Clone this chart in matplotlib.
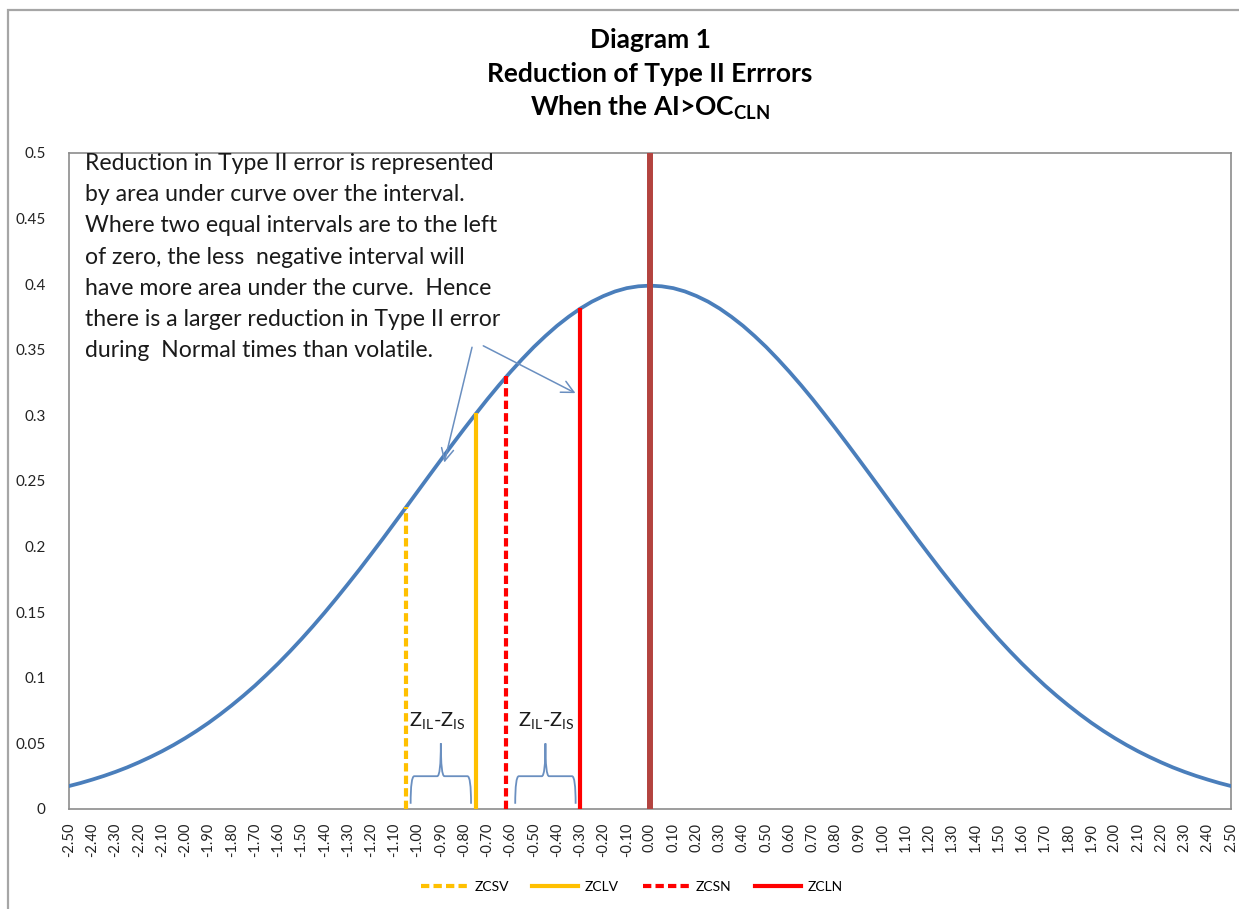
import matplotlib
matplotlib.use("Agg")
import matplotlib.pyplot as plt
from matplotlib.patches import PathPatch, Rectangle
from matplotlib.path import Path

plt.rcParams["font.family"] = ["Lato", "DejaVu Sans"]
plt.rcParams["mathtext.fontset"] = "custom"
plt.rcParams["mathtext.rm"] = "Lato"
plt.rcParams["mathtext.bf"] = "Lato:bold"

# standard normal curve, every 0.05
z = [-2.5, -2.45, -2.4, -2.35, -2.3, -2.25, -2.2, -2.15, -2.1, -2.05,
     -2.0, -1.95, -1.9, -1.85, -1.8, -1.75, -1.7, -1.65, -1.6, -1.55,
     -1.5, -1.45, -1.4, -1.35, -1.3, -1.25, -1.2, -1.15, -1.1, -1.05,
     -1.0, -0.95, -0.9, -0.85, -0.8, -0.75, -0.7, -0.65, -0.6, -0.55,
     -0.5, -0.45, -0.4, -0.35, -0.3, -0.25, -0.2, -0.15, -0.1, -0.05,
     0.0,
     0.05, 0.1, 0.15, 0.2, 0.25, 0.3, 0.35, 0.4, 0.45, 0.5,
     0.55, 0.6, 0.65, 0.7, 0.75, 0.8, 0.85, 0.9, 0.95, 1.0,
     1.05, 1.1, 1.15, 1.2, 1.25, 1.3, 1.35, 1.4, 1.45, 1.5,
     1.55, 1.6, 1.65, 1.7, 1.75, 1.8, 1.85, 1.9, 1.95, 2.0,
     2.05, 2.1, 2.15, 2.2, 2.25, 2.3, 2.35, 2.4, 2.45, 2.5]
density = [0.0175, 0.0198, 0.0224, 0.0252, 0.0283, 0.0317, 0.0355, 0.0396, 0.0440, 0.0488,
           0.0540, 0.0596, 0.0656, 0.0721, 0.0790, 0.0863, 0.0940, 0.1023, 0.1109, 0.1200,
           0.1295, 0.1394, 0.1497, 0.1604, 0.1714, 0.1826, 0.1942, 0.2059, 0.2179, 0.2299,
           0.2420, 0.2541, 0.2661, 0.2780, 0.2897, 0.3011, 0.3123, 0.3230, 0.3332, 0.3429,
           0.3521, 0.3605, 0.3683, 0.3752, 0.3814, 0.3867, 0.3910, 0.3945, 0.3970, 0.3984,
           0.3989,
           0.3984, 0.3970, 0.3945, 0.3910, 0.3867, 0.3814, 0.3752, 0.3683, 0.3605, 0.3521,
           0.3429, 0.3332, 0.3230, 0.3123, 0.3011, 0.2897, 0.2780, 0.2661, 0.2541, 0.2420,
           0.2299, 0.2179, 0.2059, 0.1942, 0.1826, 0.1714, 0.1604, 0.1497, 0.1394, 0.1295,
           0.1200, 0.1109, 0.1023, 0.0940, 0.0863, 0.0790, 0.0721, 0.0656, 0.0596, 0.0540,
           0.0488, 0.0440, 0.0396, 0.0355, 0.0317, 0.0283, 0.0252, 0.0224, 0.0198, 0.0175]
x_ticks = z[::2]
y_ticks = [0, 0.05, 0.1, 0.15, 0.2, 0.25, 0.3, 0.35, 0.4, 0.45, 0.5]

# cut-off lines
line_names = ["ZCSV", "ZCLV", "ZCSN", "ZCLN"]
line_x = [-1.05, -0.75, -0.62, -0.30]
line_top = [0.23, 0.30, 0.33, 0.38]
line_colors = ["#FFC000", "#FFC000", "#FF0000", "#FF0000"]
line_dashed = [True, False, True, False]

# the two equal intervals marked with braces
intervals = [(-1.03, -0.77), (-0.58, -0.32)]
interval_label_x = [-0.915, -0.448]

note = ("Reduction in Type II error is represented\n"
        "by area under curve over the interval.\n"
        "Where two equal intervals are to the left\n"
        "of zero, the less  negative interval will\n"
        "have more area under the curve.  Hence\n"
        "there is a larger reduction in Type II error\n"
        "during  Normal times than volatile.")

fig = plt.figure(figsize=(12.39, 9.09), dpi=100)
ax = fig.add_axes([69 / 1239, 1 - 809 / 909, (1231 - 69) / 1239, (809 - 153) / 909])

ax.plot(z, density, color="#4A7EBB", lw=2.7, zorder=3)
ax.plot([0, 0], [0, 0.5], color="#B3433F", lw=4.3, zorder=4)

for name, x, top, col, dashed in zip(line_names, line_x, line_top, line_colors, line_dashed):
    ls = (0, (2, 1)) if dashed else "-"
    ax.plot([x, x], [0, top], color=col, lw=3, ls=ls, label=name, zorder=4)


def brace(ax, x0, x1, y0=0.004, y1=0.025, y2=0.05, color="#6A8FC0"):
    xc = (x0 + x1) / 2
    r = (x1 - x0) * 0.06
    verts = [(x0, y0), (x0, y1), (x0 + r, y1),
             (xc - r, y1),
             (xc, y1), (xc, y2),
             (xc, y1), (xc + r, y1),
             (x1 - r, y1),
             (x1, y1), (x1, y0)]
    codes = [Path.MOVETO, Path.CURVE3, Path.CURVE3,
             Path.LINETO,
             Path.CURVE3, Path.CURVE3,
             Path.CURVE3, Path.CURVE3,
             Path.LINETO,
             Path.CURVE3, Path.CURVE3]
    ax.add_patch(PathPatch(Path(verts, codes), fill=False, edgecolor=color, lw=1.3, zorder=5))


for (x0, x1), lx in zip(intervals, interval_label_x):
    brace(ax, x0, x1)
    ax.text(lx, 0.067, r"Z$_{\rm IL}$-Z$_{\rm IS}$", ha="center", va="center",
            fontsize=14.5, color="#1a1a1a")

ax.text(-2.43, 0.5, note, ha="left", va="top", fontsize=16.6, linespacing=1.6, color="#1a1a1a")

arrow_style = dict(arrowstyle="->", color="#6A8FC0", lw=1.1, mutation_scale=22)
ax.annotate("", xy=(-0.888, 0.262), xytext=(-0.763, 0.354), arrowprops=arrow_style)
ax.annotate("", xy=(-0.31, 0.316), xytext=(-0.728, 0.354), arrowprops=arrow_style)

ax.set_xlim(-2.5, 2.5)
ax.set_ylim(0, 0.5)
ax.set_xticks(x_ticks)
ax.set_xticklabels([f"{v:.2f}" for v in x_ticks], rotation=90, fontsize=10.5)
ax.set_yticks(y_ticks)
ax.set_yticklabels([f"{v:g}" for v in y_ticks], fontsize=11)
ax.tick_params(axis="both", length=0, colors="#222222")
ax.tick_params(axis="x", pad=10)
ax.tick_params(axis="y", pad=17)
for s in ax.spines.values():
    s.set_color("#8c8c8c")
    s.set_linewidth(1.2)

title_lines = ["Diagram 1", "Reduction of Type II Errrors", r"When the AI>OC$_{\mathbf{CLN}}$"]
for i, t in enumerate(title_lines):
    fig.text(650 / 1239, 1 - (40 + 34 * i) / 909, t, ha="center", va="center",
             fontsize=19, fontweight="bold")

ax.legend(loc="lower center", bbox_to_anchor=(632 / 1239, 0.004), bbox_transform=fig.transFigure,
          ncol=4, frameon=False, fontsize=10, handlelength=3.3, columnspacing=1.7, handletextpad=0.5)

fig.add_artist(Rectangle((8 / 1239, -0.05), 1.2, 1 - 10 / 909 + 0.05, transform=fig.transFigure,
                         fill=False, edgecolor="#a6a6a6", lw=1.6, clip_on=False))

fig.savefig("out.png", dpi=100)
